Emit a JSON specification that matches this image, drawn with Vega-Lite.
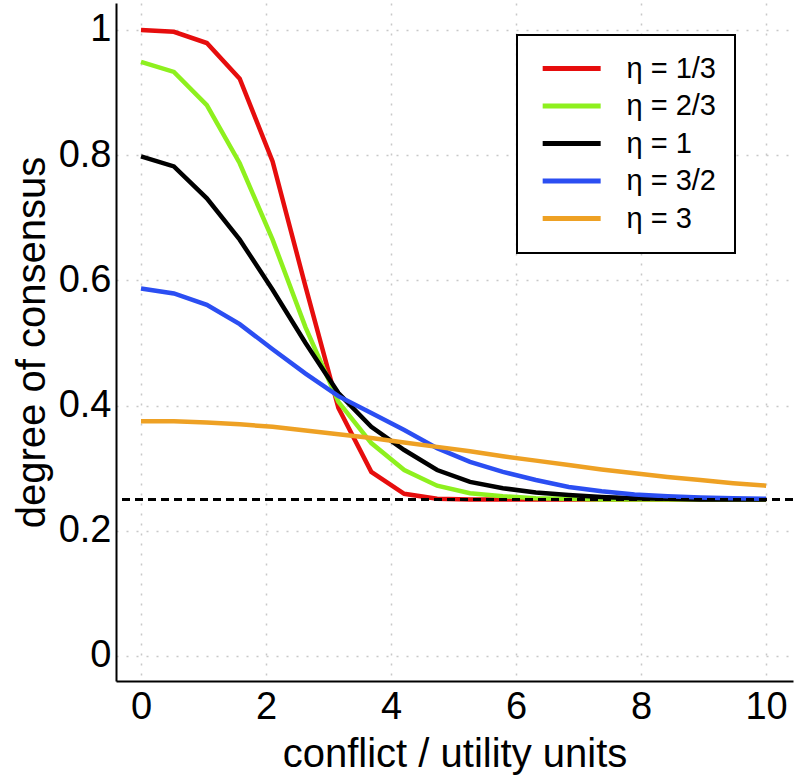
{
  "$schema": "https://vega.github.io/schema/vega-lite/v6.json",
  "width": 677,
  "height": 678,
  "autosize": {"type": "none"},
  "padding": {"left": 116, "top": 3, "right": 3, "bottom": 96},
  "background": "white",
  "config": {
    "view": {"stroke": null},
    "font": "Liberation Sans",
    "axis": {
      "domainColor": "black",
      "domainWidth": 2,
      "ticks": false,
      "grid": true,
      "gridColor": "#c8c8c8",
      "gridDash": [2, 8],
      "gridWidth": 1.5,
      "labelFont": "Liberation Sans",
      "labelFontSize": 38,
      "labelColor": "black",
      "titleFont": "Liberation Sans",
      "titleFontSize": 40,
      "titleFontWeight": "normal",
      "titleColor": "black"
    },
    "legend": {
      "orient": "none",
      "legendX": 401,
      "legendY": 32,
      "padding": 19,
      "strokeColor": "black",
      "strokeWidth": 2,
      "fillColor": "white",
      "labelFont": "Liberation Sans",
      "labelFontSize": 29,
      "labelColor": "black",
      "symbolType": "M-6,0H6",
      "symbolSize": 93.4,
      "symbolStrokeWidth": 5,
      "symbolOffset": 21.17,
      "labelOffset": 40.3,
      "rowPadding": 7.5
    }
  },
  "data": {
    "values": [
      {"x": 0, "eta": "η = 1/3", "y": 1.0},
      {"x": 0.526, "eta": "η = 1/3", "y": 0.997},
      {"x": 1.053, "eta": "η = 1/3", "y": 0.979},
      {"x": 1.579, "eta": "η = 1/3", "y": 0.922},
      {"x": 2.105, "eta": "η = 1/3", "y": 0.79},
      {"x": 2.632, "eta": "η = 1/3", "y": 0.59},
      {"x": 3.158, "eta": "η = 1/3", "y": 0.396},
      {"x": 3.684, "eta": "η = 1/3", "y": 0.294},
      {"x": 4.211, "eta": "η = 1/3", "y": 0.259},
      {"x": 4.737, "eta": "η = 1/3", "y": 0.251},
      {"x": 5.263, "eta": "η = 1/3", "y": 0.25},
      {"x": 5.789, "eta": "η = 1/3", "y": 0.25},
      {"x": 6.316, "eta": "η = 1/3", "y": 0.25},
      {"x": 6.842, "eta": "η = 1/3", "y": 0.25},
      {"x": 7.368, "eta": "η = 1/3", "y": 0.25},
      {"x": 7.895, "eta": "η = 1/3", "y": 0.25},
      {"x": 8.421, "eta": "η = 1/3", "y": 0.25},
      {"x": 8.947, "eta": "η = 1/3", "y": 0.25},
      {"x": 9.474, "eta": "η = 1/3", "y": 0.25},
      {"x": 10, "eta": "η = 1/3", "y": 0.25},
      {"x": 0, "eta": "η = 2/3", "y": 0.949},
      {"x": 0.526, "eta": "η = 2/3", "y": 0.933},
      {"x": 1.053, "eta": "η = 2/3", "y": 0.88},
      {"x": 1.579, "eta": "η = 2/3", "y": 0.787},
      {"x": 2.105, "eta": "η = 2/3", "y": 0.665},
      {"x": 2.632, "eta": "η = 2/3", "y": 0.525},
      {"x": 3.158, "eta": "η = 2/3", "y": 0.406},
      {"x": 3.684, "eta": "η = 2/3", "y": 0.34},
      {"x": 4.211, "eta": "η = 2/3", "y": 0.297},
      {"x": 4.737, "eta": "η = 2/3", "y": 0.272},
      {"x": 5.263, "eta": "η = 2/3", "y": 0.26},
      {"x": 5.789, "eta": "η = 2/3", "y": 0.255},
      {"x": 6.316, "eta": "η = 2/3", "y": 0.252},
      {"x": 6.842, "eta": "η = 2/3", "y": 0.251},
      {"x": 7.368, "eta": "η = 2/3", "y": 0.25},
      {"x": 7.895, "eta": "η = 2/3", "y": 0.25},
      {"x": 8.421, "eta": "η = 2/3", "y": 0.25},
      {"x": 8.947, "eta": "η = 2/3", "y": 0.25},
      {"x": 9.474, "eta": "η = 2/3", "y": 0.25},
      {"x": 10, "eta": "η = 2/3", "y": 0.25},
      {"x": 0, "eta": "η = 1", "y": 0.798},
      {"x": 0.526, "eta": "η = 1", "y": 0.782},
      {"x": 1.053, "eta": "η = 1", "y": 0.731},
      {"x": 1.579, "eta": "η = 1", "y": 0.665},
      {"x": 2.105, "eta": "η = 1", "y": 0.585},
      {"x": 2.632, "eta": "η = 1", "y": 0.5},
      {"x": 3.158, "eta": "η = 1", "y": 0.42},
      {"x": 3.684, "eta": "η = 1", "y": 0.366},
      {"x": 4.211, "eta": "η = 1", "y": 0.329},
      {"x": 4.737, "eta": "η = 1", "y": 0.297},
      {"x": 5.263, "eta": "η = 1", "y": 0.278},
      {"x": 5.789, "eta": "η = 1", "y": 0.268},
      {"x": 6.316, "eta": "η = 1", "y": 0.261},
      {"x": 6.842, "eta": "η = 1", "y": 0.257},
      {"x": 7.368, "eta": "η = 1", "y": 0.254},
      {"x": 7.895, "eta": "η = 1", "y": 0.252},
      {"x": 8.421, "eta": "η = 1", "y": 0.251},
      {"x": 8.947, "eta": "η = 1", "y": 0.25},
      {"x": 9.474, "eta": "η = 1", "y": 0.25},
      {"x": 10, "eta": "η = 1", "y": 0.25},
      {"x": 0, "eta": "η = 3/2", "y": 0.587},
      {"x": 0.526, "eta": "η = 3/2", "y": 0.579},
      {"x": 1.053, "eta": "η = 3/2", "y": 0.561},
      {"x": 1.579, "eta": "η = 3/2", "y": 0.53},
      {"x": 2.105, "eta": "η = 3/2", "y": 0.49},
      {"x": 2.632, "eta": "η = 3/2", "y": 0.451},
      {"x": 3.158, "eta": "η = 3/2", "y": 0.415},
      {"x": 3.684, "eta": "η = 3/2", "y": 0.388},
      {"x": 4.211, "eta": "η = 3/2", "y": 0.361},
      {"x": 4.737, "eta": "η = 3/2", "y": 0.332},
      {"x": 5.263, "eta": "η = 3/2", "y": 0.31},
      {"x": 5.789, "eta": "η = 3/2", "y": 0.294},
      {"x": 6.316, "eta": "η = 3/2", "y": 0.281},
      {"x": 6.842, "eta": "η = 3/2", "y": 0.27},
      {"x": 7.368, "eta": "η = 3/2", "y": 0.263},
      {"x": 7.895, "eta": "η = 3/2", "y": 0.258},
      {"x": 8.421, "eta": "η = 3/2", "y": 0.255},
      {"x": 8.947, "eta": "η = 3/2", "y": 0.253},
      {"x": 9.474, "eta": "η = 3/2", "y": 0.252},
      {"x": 10, "eta": "η = 3/2", "y": 0.251},
      {"x": 0, "eta": "η = 3", "y": 0.375},
      {"x": 0.526, "eta": "η = 3", "y": 0.375},
      {"x": 1.053, "eta": "η = 3", "y": 0.373},
      {"x": 1.579, "eta": "η = 3", "y": 0.37},
      {"x": 2.105, "eta": "η = 3", "y": 0.366},
      {"x": 2.632, "eta": "η = 3", "y": 0.36},
      {"x": 3.158, "eta": "η = 3", "y": 0.354},
      {"x": 3.684, "eta": "η = 3", "y": 0.348},
      {"x": 4.211, "eta": "η = 3", "y": 0.341},
      {"x": 4.737, "eta": "η = 3", "y": 0.334},
      {"x": 5.263, "eta": "η = 3", "y": 0.327},
      {"x": 5.789, "eta": "η = 3", "y": 0.319},
      {"x": 6.316, "eta": "η = 3", "y": 0.312},
      {"x": 6.842, "eta": "η = 3", "y": 0.305},
      {"x": 7.368, "eta": "η = 3", "y": 0.298},
      {"x": 7.895, "eta": "η = 3", "y": 0.292},
      {"x": 8.421, "eta": "η = 3", "y": 0.286},
      {"x": 8.947, "eta": "η = 3", "y": 0.281},
      {"x": 9.474, "eta": "η = 3", "y": 0.276},
      {"x": 10, "eta": "η = 3", "y": 0.272}
    ]
  },
  "layer": [
    {
      "mark": {"type": "line", "strokeWidth": 4.5, "strokeJoin": "miter"},
      "encoding": {
        "x": {
          "field": "x", "type": "quantitative",
          "scale": {"domain": [-0.4, 10.43], "nice": false, "zero": false},
          "axis": {"values": [0, 2, 4, 6, 8, 10], "title": "conflict / utility units", "labelPadding": 7, "titlePadding": 8}
        },
        "y": {
          "field": "y", "type": "quantitative",
          "scale": {"domain": [-0.04, 1.043], "nice": false, "zero": false},
          "axis": {"values": [0, 0.2, 0.4, 0.6, 0.8, 1], "format": ".1~f", "title": "degree of consensus", "labelPadding": 5, "titlePadding": 6}
        },
        "color": {
          "field": "eta", "type": "nominal",
          "scale": {
            "domain": ["η = 1/3", "η = 2/3", "η = 1", "η = 3/2", "η = 3"],
            "range": ["#e60d0d", "#8ef01e", "#000000", "#2b4ef2", "#eea124"]
          },
          "legend": {"title": null}
        },
        "order": {"field": "x", "type": "quantitative"}
      }
    },
    {
      "mark": {"type": "rule", "strokeDash": [8, 5], "strokeWidth": 2, "color": "black"},
      "encoding": {"y": {"datum": 0.25}}
    }
  ]
}
